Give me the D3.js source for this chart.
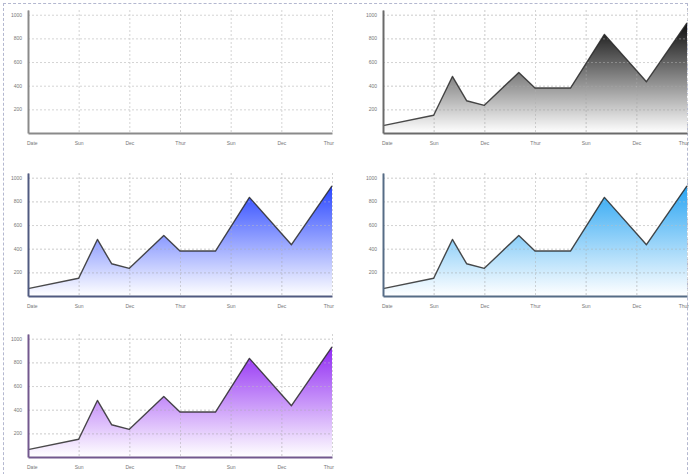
<!DOCTYPE html>
<html>
<head>
<meta charset="utf-8">
<script src="https://cdn.jsdelivr.net/npm/d3@7"></script>
<style>
  body{margin:0;background:#fff;font-family:'DejaVu Sans',sans-serif;}
  .frame{position:absolute;left:3px;top:3px;width:683px;height:520px;border:1px dashed #b4b8d0;}
  svg{position:absolute;left:0;top:0;}
  .axis path{stroke-width:2px;}
  .axis text{font-size:5px;fill:#777;}
  .grid line{stroke:#d4d4d4;stroke-dasharray:2,2;}
  .grid path{display:none;}
</style>
</head>
<body>
<div class="frame"></div>
<div class="charts"></div>
<script>
// data
const xValues = [0, 1, 1.37, 1.65, 2, 2.68, 3, 3.7, 4.37, 5.2, 6];
const yValues = [62, 150, 478, 273, 234, 512, 380, 380, 834, 434, 932];
const xTickLabels = ['Date', 'Sun', 'Dec', 'Thur', 'Sun', 'Dec', 'Thur'];
const yTickValues = [200, 400, 600, 800, 1000];
const themes = ['none', 'black', '#1e3cff', '#1ea0f2', '#8a1ef2'];
const axisColors = ['#8a8a8a', '#6a6a6a', '#505a80', '#566c86', '#72588e'];

const points = xValues.map((x, i) => ({x: x, y: yValues[i]}));

const svg_width = 689;
const svg_height = 474;
const chart_width = 304;
const chart_height = 123;
const origins = [[28, 10], [383, 10], [28, 173], [383, 173], [28, 334]];

const svg = d3.select('.charts').append('svg')
  .attr('width', svg_width).attr('height', svg_height);
const defs = svg.append('defs');

const xScale = d3.scaleLinear().domain([0, 6]).range([0, chart_width]);
const yScale = d3.scaleLinear().domain([0, 1040]).range([chart_height, 0]);

function drawChart(idx){
  const [left, top] = origins[idx];
  const g = svg.append('g').attr('transform', `translate(${left},${top})`);

  //grid
  g.append('g').attr('class', 'grid')
    .call(d3.axisLeft(yScale).tickValues(yTickValues).tickSize(-chart_width).tickFormat(''));
  g.append('g').attr('class', 'grid')
    .call(d3.axisBottom(xScale).ticks(6).tickSize(chart_height).tickFormat(''));

  //area
  if(themes[idx] != 'none'){
    const gid = 'grad' + idx;
    // userSpaceOnUse -> local coords of the group
    const grad = defs.append('linearGradient').attr('id', gid)
      .attr('gradientUnits', 'userSpaceOnUse')
      .attr('x1', 0).attr('x2', 0)
      .attr('y1', yScale(d3.max(yValues))).attr('y2', chart_height);
    grad.append('stop').attr('offset', 0).attr('stop-color', themes[idx]).attr('stop-opacity', 0.95);
    grad.append('stop').attr('offset', 1).attr('stop-color', themes[idx]).attr('stop-opacity', 0);

    const area = d3.area().x(d => xScale(d.x)).y0(chart_height).y1(d => yScale(d.y));
    const line = d3.line().x(d => xScale(d.x)).y(d => yScale(d.y));
    g.append('path').datum(points).attr('d', area).attr('fill', `url(#${gid})`);

    // grid again on top, faint
    g.append('g').attr('class', 'grid').style('opacity', 0.45)
      .call(d3.axisBottom(xScale).ticks(6).tickSize(chart_height).tickFormat(''));
    g.append('g').attr('class', 'grid').style('opacity', 0.45)
      .call(d3.axisLeft(yScale).tickValues(yTickValues).tickSize(-chart_width).tickFormat(''));

    g.append('path').datum(points).attr('d', line)
      .attr('fill', 'none').attr('stroke', '#2a2a2a').attr('stroke-opacity', 0.85)
      .attr('stroke-width', 1.4).attr('stroke-linejoin', 'round');
  }

  //axes
  const yAxis = d3.axisLeft(yScale).tickValues(yTickValues).tickSize(0).tickPadding(6)
    .tickFormat(d3.format('d'));
  const xAxis = d3.axisBottom(xScale).ticks(6).tickSize(0).tickPadding(8)
    .tickFormat((d, i) => xTickLabels[i]);
  g.append('g').attr('class', 'axis').call(yAxis)
    .select('.domain').attr('stroke', axisColors[idx]);
  const xa = g.append('g').attr('class', 'axis')
    .attr('transform', `translate(0,${chart_height})`).call(xAxis);
  xa.select('.domain').attr('stroke', axisColors[idx]);
  // keep first and last label inside the plot width
  xa.selectAll('.tick text')
    .attr('text-anchor', (d, i, n) => i == 0 ? 'start' : (i == n.length - 1 ? 'end' : 'middle'))
    .attr('dx', (d, i, n) => i == 0 ? '-0.3em' : (i == n.length - 1 ? '0.3em' : 0));
}

themes.forEach((t, i) => drawChart(i));
</script>
</body>
</html>
